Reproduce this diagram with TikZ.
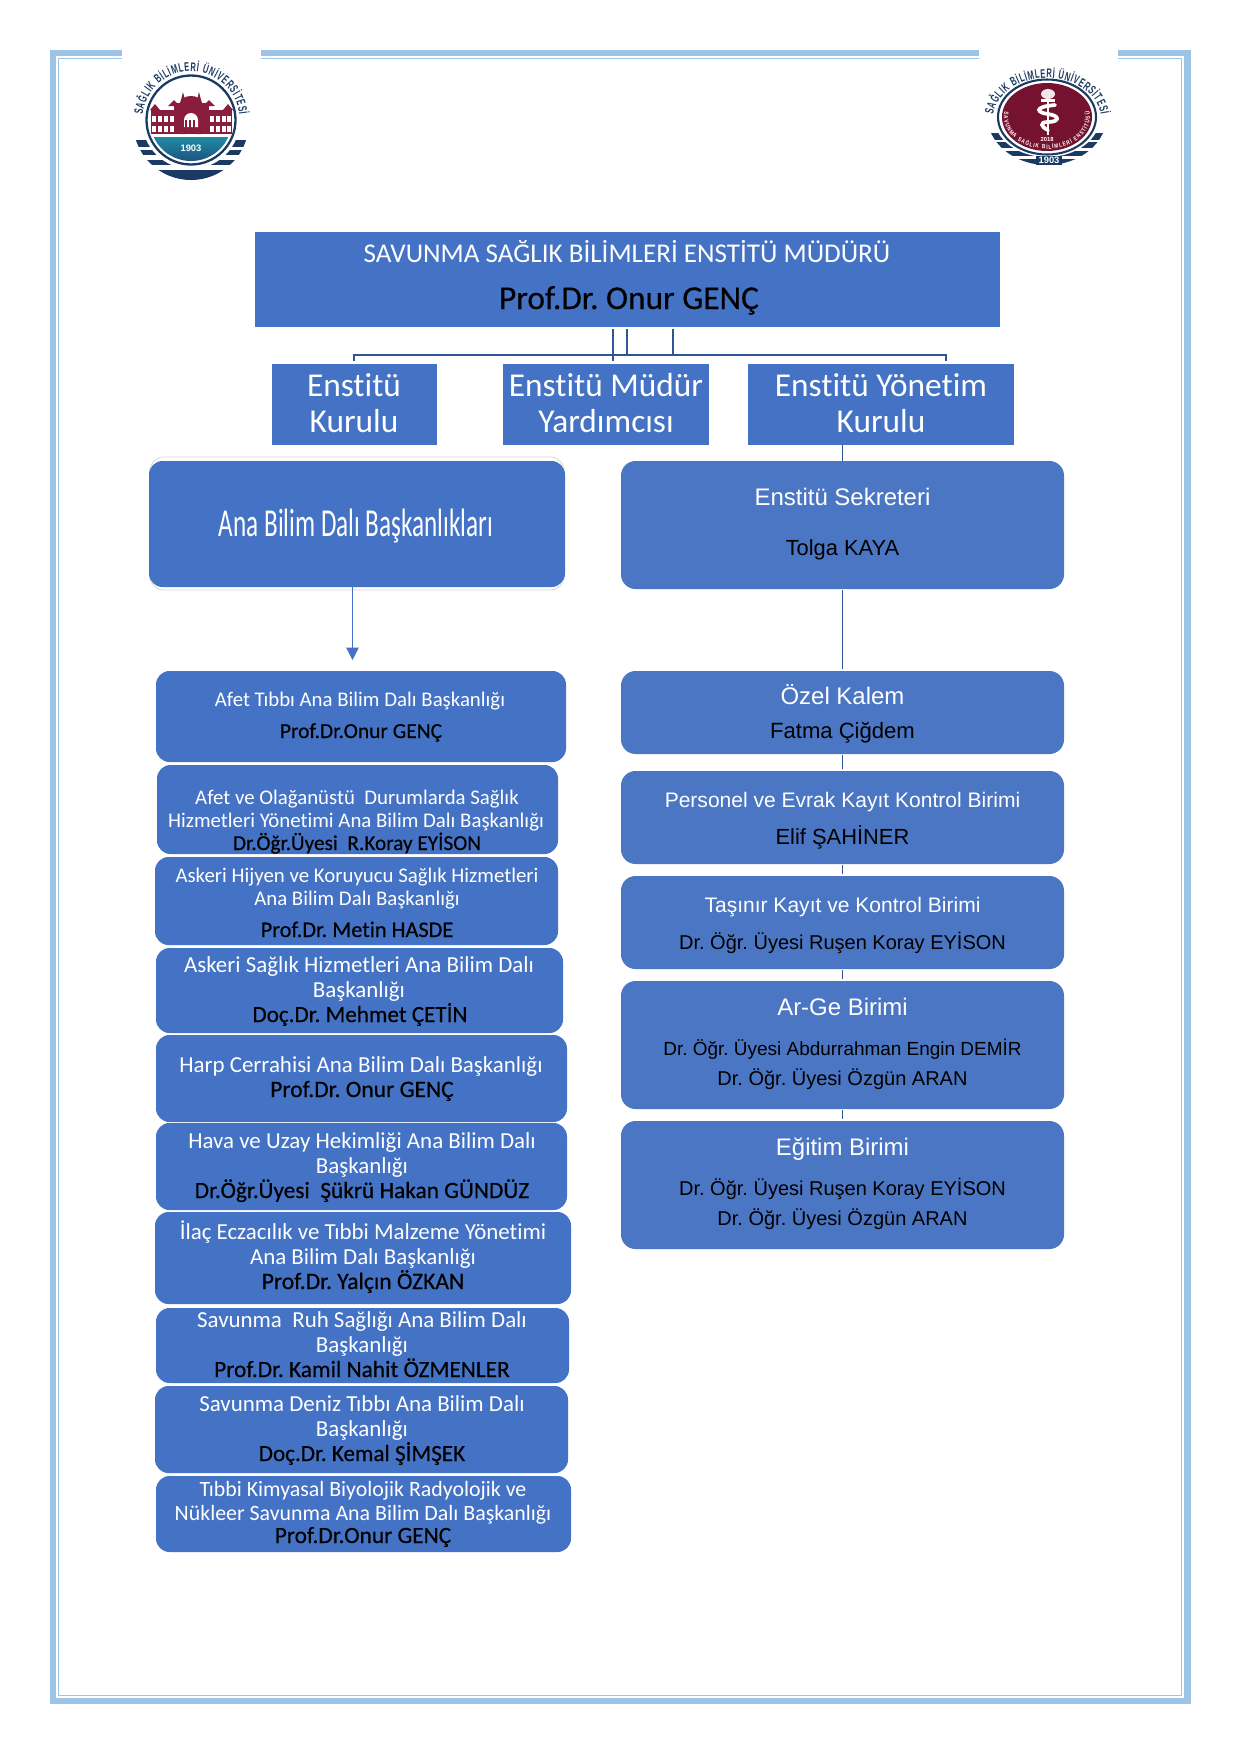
\documentclass[tikz,border=0pt]{standalone}
\usepackage{fontspec}
\setmainfont[Ligatures=NoCommon]{Carlito}
\newfontfamily\arialf{Liberation Sans}
\newfontfamily\logof[FakeStretch=0.6]{Liberation Sans Bold}
\newfontfamily\logoi[FakeStretch=0.8]{Liberation Sans Bold}
\newfontfamily\namef[FakeBold=0.35,Ligatures=NoCommon]{Carlito}
\usetikzlibrary{arrows.meta,decorations.text,calc}
\frenchspacing
\definecolor{pblue}{HTML}{4472C4}
\definecolor{rblue}{HTML}{4B76C3}
\definecolor{frameblue}{HTML}{9DC3E6}
\definecolor{linkblue}{HTML}{2F5597}
\definecolor{navy}{HTML}{1B3A63}
\definecolor{maroon}{HTML}{8A1C3C}
\definecolor{deepred}{HTML}{74122F}
\definecolor{wtop}{HTML}{1E8DA3}
\definecolor{wbot}{HTML}{1D4F7C}
\newcommand{\fsz}[1]{\fontsize{#1}{#1}\selectfont}
\tikzset{
  panel/.style={rounded corners=6.5pt,fill=pblue,inner sep=0pt,outer sep=0pt,draw=none},
  rpanel/.style={panel,fill=rblue,rounded corners=7pt},
  square/.style={panel,rounded corners=0pt},
  wline/.style={anchor=base,inner sep=0pt,outer sep=0pt,text=white},
  kline/.style={anchor=base,inner sep=0pt,outer sep=0pt,text=black},
  link/.style={draw=linkblue,line width=0.9pt},
}
\newcommand{\boxat}[6]{\node[#1,minimum width={(#5-#3)*0.48pt},minimum height={(#6-#4)*0.48pt}] (#2) at ({(#3+#5)/2},{(#4+#6)/2}) {};}
\begin{document}
\begin{tikzpicture}[x=0.48pt,y=-0.48pt]
\useasboundingbox (0,0) rectangle (1241,1754);
% page frame
\fill[frameblue] (50,50) rectangle (1191,1704);
\fill[white] (56,56) rectangle (1184,1698);
\draw[frameblue,line width=0.7pt] (58.5,58.5) rectangle (1181.5,1695.5);
\fill[white] (122,45) rectangle (261,62);
\fill[white] (979,45) rectangle (1118,62);

% ---------- left emblem
\begin{scope}
 \fill[navy] (191,122) circle[radius=58];
 \fill[white] (120,60) rectangle (262,139.5);
 \foreach \ya/\yb in {147/150,155/160,165/170}{\fill[white] (125,\ya) rectangle (257,\yb);}
 \fill[white] (191,120) circle[radius=49];
 \draw[navy,line width=1.1pt] (191,120) circle[radius=44.5];
 \begin{scope}
  \clip (191,120) circle[radius=41];
  \shade[top color=wtop,bottom color=wbot] (140,137) rectangle (242,163);
 \end{scope}
 \node[inner sep=0pt,text=white] (yearA) at (191,148) {\arialf\bfseries\fsz{4.5}1903};
 % building
 \fill[maroon] (151,110) rectangle (232,134);
 \fill[maroon] (174,103) rectangle (209,134);
 \fill[maroon] (180,103) arc[start angle=180,end angle=360,x radius=11,y radius=7];
 \fill[maroon] (181,134) rectangle (185,100) -- (183,92) -- (181,100) -- cycle;
 \fill[maroon] (197,134) rectangle (201,100) -- (199,92) -- (197,100) -- cycle;
 \fill[maroon] (150,110) -- (155,104) -- (160,110) -- cycle;
 \fill[maroon] (223,110) -- (228,104) -- (233,110) -- cycle;
 \fill[maroon] (168,106) -- (174,100) -- (180,106) -- cycle;
 \fill[maroon] (203,106) -- (209,100) -- (215,106) -- cycle;
 \foreach \wx in {154,160,166,172,212,218,224,229}{
  \fill[white] (\wx-1.8,116) rectangle (\wx+1.8,122);
  \fill[white] (\wx-1.8,126) rectangle (\wx+1.8,132);}
 \fill[white] (184,127) rectangle (198,120) arc[start angle=0,end angle=-180,radius=7];
 \foreach \wx in {186,190,194}{\fill[maroon] (\wx-.7,120) rectangle (\wx+.7,134);}
 \path[decorate,decoration={text along path,text align={fit to path},
   text={|\logof\fsz{6}\color{navy}|SAĞLIK BİLİMLERİ ÜNİVERSİTESİ}}]
   (191,120) ++(186:48.5 and 48.5) arc[start angle=186,end angle=354,radius=48.5];
\end{scope}

% ---------- right emblem
\begin{scope}
 \fill[navy] (1047,115) ellipse[x radius=60,y radius=50];
 \fill[white] (980,60) rectangle (1115,133);
 \foreach \ya/\yb in {139.5/142,148/150.5,156/159}{\fill[white] (982,\ya) rectangle (1112,\yb);}
 \fill[white] (1047,117) ellipse[x radius=53,y radius=40];
 \draw[navy,line width=1pt] (1047,117) ellipse[x radius=49,y radius=37.5];
 \fill[deepred] (1047,117) ellipse[x radius=45,y radius=34];
 \fill[navy] (1036,155.5) rectangle (1062,165);
 \node[inner sep=0pt,text=white] (yearB) at (1049,160) {\arialf\bfseries\fsz{4.5}1903};
 \node[inner sep=0pt,text=white] (yearC) at (1047,139) {\arialf\bfseries\fsz{2.8}2018};
 % rod of Asclepius
 \fill[white!90!deepred] (1048,94) ellipse[x radius=7,y radius=5];
 \fill[white] (1041,99) rectangle (1055,102);
 \draw[white,line width=1.2pt] (1048,102) -- (1048,135);
 \draw[white,line width=1.8pt,line cap=round] (1055,105) .. controls (1032,107) and (1038,113) .. (1048,114)
   .. controls (1061,116) and (1059,122) .. (1048,122) .. controls (1039,122) and (1041,127) .. (1048,130);
 \path[decorate,decoration={text along path,text align={fit to path},
   text={|\logof\fsz{6}\color{navy}|SAĞLIK BİLİMLERİ ÜNİVERSİTESİ}}]
   (1047,119) ++(186:54 and 41) arc[start angle=186,end angle=354,x radius=54,y radius=41];
 \path[decorate,decoration={text along path,text align={fit to path},
   text={|\logoi\fsz{2.9}\color{white}|SAVUNMA SAĞLIK BİLİMLERİ ENSTİTÜSÜ}}]
   (1047,117) ++(190:43 and 32) arc[start angle=190,end angle=-10,x radius=43,y radius=32];
\end{scope}

% ---------- top block
\boxat{square}{top}{255}{232}{1000}{327}
\node[wline] (topa) at (627,262) {\fsz{13}SAVUNMA SAĞLIK BİLİMLERİ ENSTİTÜ MÜDÜRÜ};
\node[kline] (topb) at (629,309) {\namef\fsz{16}Prof.Dr. Onur GENÇ};

\boxat{square}{kurul}{272}{364}{437}{445}
\boxat{square}{mudur}{503}{364}{709}{445}
\boxat{square}{yonet}{748}{364}{1014}{445}
\node[wline] (kura) at (354,396) {\fsz{16}Enstitü};
\node[wline] (kurb) at (354,432) {\fsz{16}Kurulu};
\node[wline] (muda) at (606,396) {\fsz{16}Enstitü Müdür};
\node[wline] (mudb) at (606,432) {\fsz{16}Yardımcısı};
\node[wline] (yona) at (881,396) {\fsz{16}Enstitü Yönetim};
\node[wline] (yonb) at (881,432) {\fsz{16}Kurulu};

% bus connectors
\coordinate (d1) at (613,329); \coordinate (e1) at (613,361);
\coordinate (d2) at (627,329); \coordinate (e2) at (627,355);
\coordinate (d3) at (673,329); \coordinate (e3) at (673,355);
\coordinate (busLe) at (354,361); \coordinate (busL) at (354,355);
\coordinate (busR) at (946,355); \coordinate (busRe) at (946,361);
\draw[link] (busLe) -- (busL) -- (busR) -- (busRe);
\draw[link] (d1) -- (e1);
\draw[link] (d2) -- (e2);
\draw[link] (d3) -- (e3);

% ---------- left column
\boxat{panel,fill=white,draw=black!15,line width=0.4pt}{abdbg}{150}{457}{564}{590}
\boxat{panel}{abd}{149}{461}{565}{587}
\node[wline] (abdt) at (356,536) {\scalebox{0.635}[1]{\fsz{19}Ana Bilim Dalı Başkanlıkları}};
\coordinate (arrowEnd) at (352.5,660);
\draw[draw=pblue,line width=0.6pt,-{Triangle[width=6pt,length=6pt,fill=pblue]}] (abd.south -| arrowEnd) -- (arrowEnd);

\boxat{panel}{a1}{156}{671}{566}{762}
\node[wline] (a1a) at (360,706) {\fsz{10}Afet Tıbbı Ana Bilim Dalı Başkanlığı};
\node[kline] (a1b) at (361,738) {\namef\fsz{10.3}Prof.Dr.Onur GENÇ};

\boxat{panel}{a2}{157}{765}{558}{854}
\node[wline] (a2a) at (357,804) {\fsz{10}Afet ve Olağanüstü\ \ Durumlarda Sağlık};
\node[wline] (a2b) at (356,827) {\fsz{10}Hizmetleri Yönetimi Ana Bilim Dalı Başkanlığı};
\node[kline] (a2c) at (357,850) {\namef\fsz{10.2}Dr.Öğr.Üyesi\ \ R.Koray EYİSON};

\boxat{panel}{a3}{155}{857}{558}{945}
\node[wline] (a3a) at (357,882) {\fsz{10}Askeri Hijyen ve Koruyucu Sağlık Hizmetleri};
\node[wline] (a3b) at (357,905) {\fsz{10}Ana Bilim Dalı Başkanlığı};
\node[kline] (a3c) at (357,937) {\namef\fsz{10.7}Prof.Dr. Metin HASDE};

\boxat{panel}{a4}{156}{948}{563}{1033}
\node[wline] (a4a) at (359,972) {\fsz{11}Askeri Sağlık Hizmetleri Ana Bilim Dalı};
\node[wline] (a4b) at (359,997) {\fsz{11}Başkanlığı};
\node[kline] (a4c) at (360,1022) {\namef\fsz{11.1}Doç.Dr. Mehmet ÇETİN};

\boxat{panel}{a5}{156}{1035}{567}{1122}
\node[wline] (a5a) at (361,1072) {\fsz{11}Harp Cerrahisi Ana Bilim Dalı Başkanlığı};
\node[kline] (a5b) at (362,1097) {\namef\fsz{11.3}Prof.Dr. Onur GENÇ};

\boxat{panel}{a6}{156}{1123}{567}{1210}
\node[wline] (a6a) at (362,1148) {\fsz{11}Hava ve Uzay Hekimliği Ana Bilim Dalı};
\node[wline] (a6b) at (362,1173) {\fsz{11}Başkanlığı};
\node[kline] (a6c) at (362,1198) {\namef\fsz{11.2}Dr.Öğr.Üyesi\ \ Şükrü Hakan GÜNDÜZ};

\boxat{panel}{a7}{155}{1212}{571}{1304}
\node[wline] (a7a) at (363,1239) {\fsz{11}İlaç Eczacılık ve Tıbbi Malzeme Yönetimi};
\node[wline] (a7b) at (363,1264) {\fsz{11}Ana Bilim Dalı Başkanlığı};
\node[kline] (a7c) at (363,1289) {\namef\fsz{11.3}Prof.Dr. Yalçın ÖZKAN};

\boxat{panel}{a8}{156}{1308}{569}{1383}
\node[wline] (a8a) at (362,1327) {\fsz{11}Savunma\ \ Ruh Sağlığı Ana Bilim Dalı};
\node[wline] (a8b) at (362,1352) {\fsz{11}Başkanlığı};
\node[kline] (a8c) at (362,1377) {\namef\fsz{11.2}Prof.Dr. Kamil Nahit ÖZMENLER};

\boxat{panel}{a9}{155}{1386}{568}{1473}
\node[wline] (a9a) at (362,1411) {\fsz{11}Savunma Deniz Tıbbı Ana Bilim Dalı};
\node[wline] (a9b) at (362,1436) {\fsz{11}Başkanlığı};
\node[kline] (a9c) at (362,1461) {\namef\fsz{11.1}Doç.Dr. Kemal ŞİMŞEK};

\boxat{panel}{a10}{156}{1476}{571}{1552}
\node[wline] (a10a) at (363,1496) {\fsz{10.5}Tıbbi Kimyasal Biyolojik Radyolojik ve};
\node[wline] (a10b) at (363,1520) {\fsz{10.5}Nükleer Savunma Ana Bilim Dalı Başkanlığı};
\node[kline] (a10c) at (363,1543) {\namef\fsz{11.2}Prof.Dr.Onur GENÇ};

% ---------- right column
\boxat{rpanel}{sek}{621}{461}{1064}{589}
\node[wline] (seka) at (842.5,505) {\arialf\fsz{11.5}Enstitü Sekreteri};
\node[kline] (sekb) at (842.5,555) {\arialf\fsz{10.5}Tolga KAYA};
\boxat{rpanel}{oz}{621}{671}{1064}{754}
\node[wline] (oza) at (842.5,704) {\arialf\fsz{11.5}Özel Kalem};
\node[kline] (ozb) at (842.5,738) {\arialf\fsz{10.6}Fatma Çiğdem};
\boxat{rpanel}{per}{621}{771}{1064}{864}
\node[wline] (pera) at (842.5,807) {\arialf\fsz{10.1}Personel ve Evrak Kayıt Kontrol Birimi};
\node[kline] (perb) at (842.5,844) {\arialf\fsz{10.5}Elif ŞAHİNER};
\boxat{rpanel}{tas}{621}{876}{1064}{969}
\node[wline] (tasa) at (842.5,912) {\arialf\fsz{10.1}Taşınır Kayıt ve Kontrol Birimi};
\node[kline] (tasb) at (842.5,949) {\arialf\fsz{9.6}Dr. Öğr. Üyesi Ruşen Koray EYİSON};
\boxat{rpanel}{arge}{621}{981}{1064}{1109}
\node[wline] (argea) at (842.5,1015) {\arialf\fsz{11.5}Ar-Ge Birimi};
\node[kline] (argeb) at (842.5,1055) {\arialf\fsz{9.1}Dr. Öğr. Üyesi Abdurrahman Engin DEMİR};
\node[kline] (argec) at (842.5,1085) {\arialf\fsz{9.6}Dr. Öğr. Üyesi Özgün ARAN};
\boxat{rpanel}{egi}{621}{1121}{1064}{1249}
\node[wline] (egia) at (842.5,1155) {\arialf\fsz{11.5}Eğitim Birimi};
\node[kline] (egib) at (842.5,1195) {\arialf\fsz{9.6}Dr. Öğr. Üyesi Ruşen Koray EYİSON};
\node[kline] (egic) at (842.5,1225) {\arialf\fsz{9.6}Dr. Öğr. Üyesi Özgün ARAN};

\draw[link] (sek.north) -- (sek.north |- yonet.south);
\draw[link,shorten <=0.5pt,shorten >=1pt] (sek.south) -- (oz.north);
\draw[link,shorten <=0.5pt,shorten >=1pt] (oz.south) -- (per.north);
\draw[link,shorten <=0.5pt,shorten >=1pt] (per.south) -- (tas.north);
\draw[link,shorten <=0.5pt,shorten >=1pt] (tas.south) -- (arge.north);
\draw[link,shorten <=0.5pt,shorten >=1pt] (arge.south) -- (egi.north);
\end{tikzpicture}
\end{document}
